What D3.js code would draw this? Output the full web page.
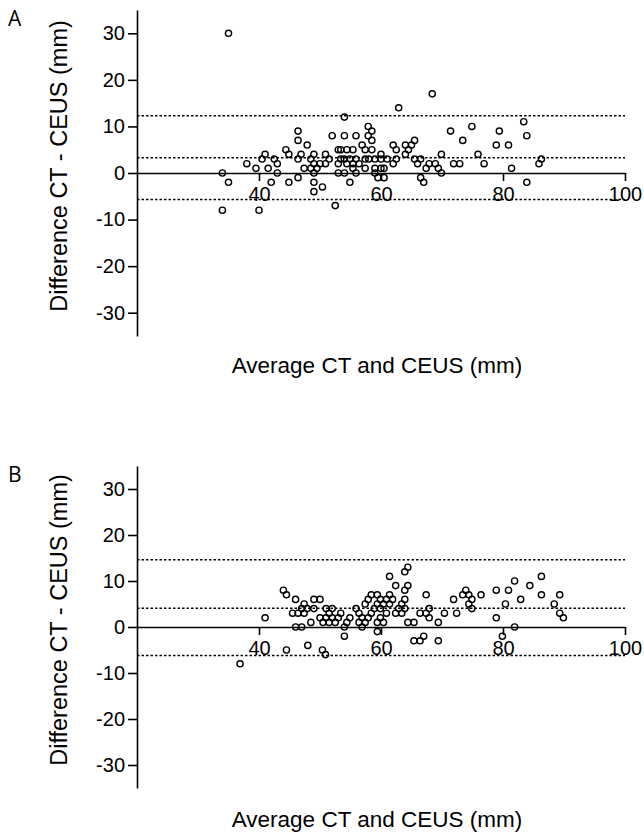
<!DOCTYPE html>
<html>
<head>
<meta charset="utf-8">
<script src="https://cdnjs.cloudflare.com/ajax/libs/d3/7.8.5/d3.min.js"></script>
<style>
  body { margin: 0; background: #fff; }
  svg { display: block; font-family: "Liberation Sans", Arial, sans-serif; }
</style>
</head>
<body>
<svg id="chart" width="644" height="834"></svg>
<script>
// Panel A: average vs difference (CT - CEUS)
const avgA = [34, 35, 34, 35, 38, 39.5, 40, 40.5, 41, 41.5, 42, 42.5, 43, 43, 44.4, 44.9, 44.9,
  46.4, 46.4, 46.4, 46.4, 46.9, 47.4, 47.9, 48.5, 48.5, 49, 49, 49, 49, 49, 49.5, 50, 50.4,
  50.9, 50.9, 51.5, 52, 52.5, 53, 53, 53, 53.4, 53.4, 54.4, 55.4, 54, 54, 54, 54, 54.4, 54.9,
  54.9, 55.4, 55.4, 55.9, 55.9, 55.9, 56.4, 56.9, 57.4, 57.4, 57.4, 57.9, 57.9, 58.5, 58.5,
  58.5, 58, 59, 60, 61, 60, 59, 60, 60.5, 59, 59.5, 60.5, 62.9, 68.4, 62, 62.5, 62, 62.5,
  64, 64, 64.5, 65, 65.5, 65.5, 66, 66.5, 66.5, 67, 67.4, 67.9, 68.9, 69.4, 69.9, 69.9,
  71.4, 71.9, 72.9, 73.4, 74.9, 75.9, 76.9, 78.9, 79.4, 80.9, 81.4, 83.4, 83.9, 83.9, 85.9, 86.3];
const diffA = [0, -2, -8, 30, 2, 1, -8, 3, 4, 1, -2, 3, 2, 0, 5, 4, -2,
  9, 7, 3, -1, 4, 1, 6, 3, 1, 4, 2, 0, -2, -4, 1, 2, -3,
  4, 2, 3, 8, -7, 5, 2, 0, 3, 5, 5, 5, 12, 8, 3, 0, 2, 3,
  -2, 2, 1, 8, 3, 0, 2, 6, 5, 3, 1, 10, 8, 9, 7,
  5, 3, 3, 3, 3, 4, 1, 1, 1, 0, -1, -1, 14, 17, 6, 5, 2, 3,
  6, 4, 5, 6, 7, 3, 2, 3, -1, -2, 1, 2, 2, 1, 4, 0,
  9, 2, 2, 7, 10, 4, 2, 6, 9, 6, 1, 11, 8, -2, 2, 3];
const limitsA = [12.3, 3.3, -5.7];

// Panel B
const avgB = [36.9, 41, 44, 44.5, 44.5, 46, 45.5, 46.4, 46, 47, 47, 47.4, 47.4, 47.9, 48, 48.5,
  49, 50, 49, 50, 50.4, 50.9, 50.5, 51, 52, 51.5, 51, 52, 53, 51.5, 52.5, 53.4, 54, 54, 54.4,
  54.9, 55.9, 56.4, 56.4, 57.4, 56.9, 56.9, 57.4, 57.9, 57.9, 58.4, 58.4, 58.9, 59.4, 59.4,
  59.4, 59.4, 59.9, 59.9, 59.9, 60.4, 60.4, 60.9, 60.9, 61.4, 61.4, 61.4, 61.9, 62.4, 62.4,
  64.4, 63.9, 64.4, 63.9, 63.9, 63.4, 63.9, 62.9, 63.4, 64.4, 65.4, 65.4, 66.4, 67, 67.4,
  67.9, 67.4, 67.9, 66.4, 69.4, 69.4, 70.4, 71.9, 72.4, 73.4, 73.9, 74.4, 74.9, 74.4, 74.9,
  76.4, 78.9, 78.9, 79.9, 80.4, 80.9, 81.9, 81.9, 82.9, 84.4, 86.3, 86.3, 88.4, 89.3, 89.3, 89.9];
const diffB = [-8, 2, 8, 7, -5, 6, 3, 3, 0, 0, 4, 5, 3, 4, -4, 1,
  6, 6, 4, 2, -5, -6, 1, 4, 4, 3, 2, 2, 2, 1, 1, 3, 0, -2, 1,
  2, 4, 3, 1, 1, 2, 0, 5, 6, 2, 7, 3, 4, 7, 5,
  1, -1, 6, 4, 2, 5, 1, 6, 3, 7, 5, 11, 6, 9, 3,
  13, 12, 9, 8, 6, 5, 4, 4, 3, 1, 1, -3, -3, -2, 7,
  4, 3, 2, 3, 1, -3, 3, 6, 3, 7, 8, 7, 6, 5, 4,
  7, 8, 2, -2, 5, 8, 10, 0, 6, 9, 11, 7, 5, 7, 3, 2];
const limitsB = [14.6, 4.1, -6.2];

const xTicks = [40, 60, 80, 100];
const yTicks = [-30, -20, -10, 0, 10, 20, 30];
const xTitle = "Average CT and CEUS (mm)";
const yTitle = "Difference CT - CEUS (mm)";

const svg = d3.select("#chart");

var x = d3.scaleLinear().domain([20, 100]).range([137, 625]);

// plain hyphen for negatives, like the original
var fmt = (d) => String(d);

function drawPanel(letter, avg, diff, limits, top, bottom) {
  var y = d3.scaleLinear().domain([-35, 35]).range([bottom, top]);
  var g = svg.append("g");

  // limits of agreement + mean difference
  g.selectAll(".lim")
    .data(limits)
    .enter()
    .append("line")
    .attr("x1", x(20))
    .attr("x2", x(100))
    .attr("y1", (d) => y(d))
    .attr("y2", (d) => y(d))
    .attr("stroke", "#000")
    .attr("stroke-width", 1.5)
    .attr("stroke-dasharray", "2.5,2");

  // y axis
  var yAxis = g.append("g")
    .attr("transform", "translate(" + x(20) + ",0)")
    .call(d3.axisLeft(y).tickValues(yTicks).tickFormat(fmt).tickSize(9).tickSizeOuter(0).tickPadding(3));

  // x axis sits on the zero line
  var xAxis = g.append("g")
    .attr("transform", "translate(0," + y(0) + ")")
    .call(d3.axisBottom(x).tickValues(xTicks).tickFormat(fmt).tickSize(8).tickSizeOuter(0).tickPadding(6));

  [yAxis, xAxis].forEach(function (a) {
    a.selectAll("path, line").attr("stroke", "#000").attr("stroke-width", 1.6);
    a.selectAll("text").attr("font-size", 20).attr("fill", "#000")
      .attr("font-family", "Liberation Sans, Arial, sans-serif");
  });

  // points
  g.selectAll(".pt")
    .data(avg.map((a, i) => ({ a: a, d: diff[i] })))
    .enter()
    .append("circle")
    .attr("cx", (p) => x(p.a))
    .attr("cy", (p) => y(p.d))
    .attr("r", 3.1)
    .attr("fill", "none")
    .attr("stroke", "#000")
    .attr("stroke-width", 1.4);

  // titles
  g.append("text")
    .attr("transform", "translate(67," + (y(0) - 7) + ") rotate(-90)")
    .attr("text-anchor", "middle")
    .attr("font-size", 23.5)
    .text(yTitle);

  g.append("text")
    .attr("x", 377)
    .attr("y", y(0) + 200)
    .attr("text-anchor", "middle")
    .attr("font-size", 22.5)
    .text(xTitle);

  g.append("text")
    .attr("x", 8)
    .attr("y", top + 16)
    .attr("font-size", 21)
    .attr("font-family", "Open Sans, sans-serif")
    .text(letter);
}

drawPanel("A", avgA, diffA, limitsA, 10, 336);
drawPanel("B", avgB, diffB, limitsB, 466, 788);
</script>
</body>
</html>
